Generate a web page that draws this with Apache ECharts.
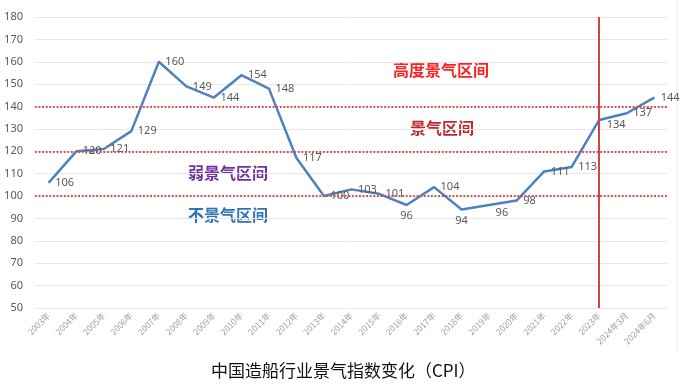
<!DOCTYPE html>
<html>
<head>
<meta charset="utf-8">
<script src="https://cdn.jsdelivr.net/npm/echarts@6/dist/echarts.min.js"></script>
<style>
html,body{margin:0;padding:0;background:#fff;}
#c{width:687px;height:387px;}
</style>
</head>
<body>
<div id="c"></div>
<script>
var categories = ['2003年','2004年','2005年','2006年','2007年','2008年','2009年','2010年','2011年','2012年','2013年','2014年','2015年','2016年','2017年','2018年','2019年','2020年','2021年','2022年','2023年','2024年3月','2024年6月'];
var cpiValues = [106,120,121,129,160,149,144,154,148,117,100,103,101,96,104,94,96,98,111,113,134,137,144];
var thresholds = [100,120,140];
var markerCategory = '2023年';
var yTicks = {min:50, max:180, interval:10};
var zoneLabels = ['高度景气区间','景气区间','弱景气区间','不景气区间'];
var titleText = '中国造船行业景气指数变化（CPI）';

// label placement tweaks (style only)
var labelTweaks = {
  13:{position:'bottom', distance:5, offset:[7,0]},
  15:{position:'bottom', distance:5, offset:[9,0]},
  16:{position:[7,3], align:'left', verticalAlign:'top'},
  20:{position:[8,0], align:'left', verticalAlign:'top'}
};
var seriesData = cpiValues.map(function(v,i){
  var item = {value:v};
  if (labelTweaks[i]) item.label = labelTweaks[i];
  return item;
});

var chart = echarts.init(document.getElementById('c'));
var font = '"Noto Sans", "Liberation Sans", sans-serif';
var cjk = '"Noto Sans CJK SC", sans-serif';
chart.setOption({
  animation:false,
  grid:{left:35,right:19,top:17,bottom:79},
  xAxis:{
    type:'category', data:categories, boundaryGap:true,
    axisLine:{show:false}, axisTick:{show:false},
    axisLabel:{rotate:45, fontSize:8.5, color:'#a0a0a0', fontFamily:cjk, margin:6, interval:0}
  },
  yAxis:{
    type:'value', min:yTicks.min, max:yTicks.max, interval:yTicks.interval,
    axisLine:{show:false}, axisTick:{show:false},
    axisLabel:{fontSize:11, color:'#595959', fontFamily:font, margin:12},
    splitLine:{lineStyle:{color:'#e8e8e8', width:1}}
  },
  series:[{
    type:'line', data:seriesData, symbol:'circle', symbolSize:1, showSymbol:true,
    itemStyle:{color:'#4f81bd'},
    lineStyle:{color:'#4f81bd', width:2.5},
    label:{show:true, position:'right', distance:6, fontSize:11, color:'#595959', fontFamily:font},
    labelLayout:{hideOverlap:false},
    markLine:{
      silent:true, symbol:'none', label:{show:false},
      data:[
        {yAxis:thresholds[0], lineStyle:{color:'#e04848', type:'dotted', width:1.8}},
        {yAxis:thresholds[1], lineStyle:{color:'#e04848', type:'dotted', width:1.8}},
        {yAxis:thresholds[2], lineStyle:{color:'#e04848', type:'dotted', width:1.8}},
        {xAxis:markerCategory, lineStyle:{color:'#cc4444', type:'solid', width:2}}
      ]
    }
  }],
  graphic:[
    {type:'text', style:{text:zoneLabels[0], fill:'#ff2020', font:'bold 16px '+cjk}, left:393, top:62},
    {type:'text', style:{text:zoneLabels[1], fill:'#c0282c', font:'bold 16px '+cjk}, left:410, top:120},
    {type:'text', style:{text:zoneLabels[2], fill:'#7030a0', font:'bold 16px '+cjk}, left:188, top:165},
    {type:'text', style:{text:zoneLabels[3], fill:'#2e75b6', font:'bold 16px '+cjk}, left:188, top:207},
    {type:'text', style:{text:titleText, fill:'#111', font:'17px '+cjk}, left:211, top:362},
    {type:'line', shape:{x1:677,y1:0,x2:677,y2:352}, style:{stroke:'#e8e8e8', lineWidth:1}}
  ]
});
</script>
</body>
</html>
